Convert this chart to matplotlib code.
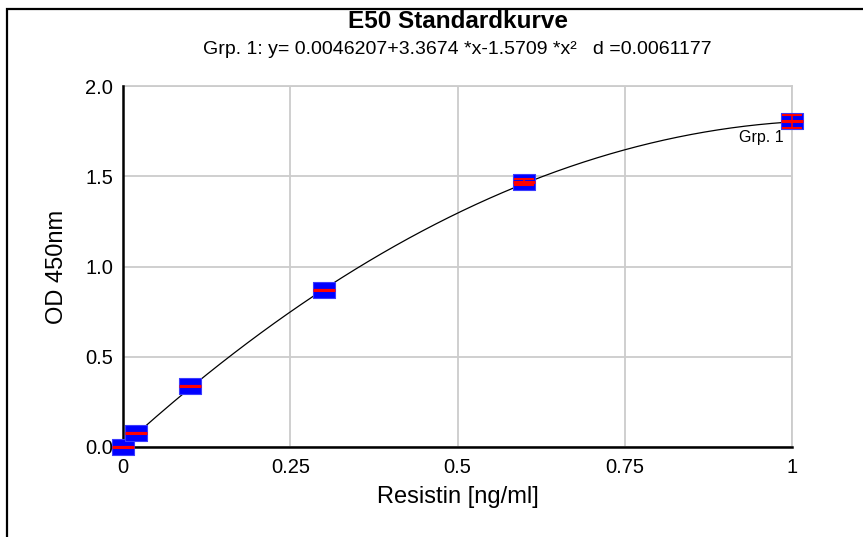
import numpy as np
import matplotlib
matplotlib.use('Agg')
import matplotlib.pyplot as plt
from matplotlib.path import Path
from matplotlib.patches import Rectangle

# standard concentrations and measured OD values
conc = [0.0, 0.02, 0.1, 0.3, 0.6, 1.0]
od = [0.0, 0.075, 0.338, 0.870, 1.470, 1.805]
od_err = [0.0, 0.0, 0.0, 0.0, 0.017, 0.036]

# fit coefficients as given in the subtitle (a + b*x + c*x^2)
fit_coef = [0.0046207, 3.3674, -1.5709]

x_ticks = [0, 0.25, 0.5, 0.75, 1]
x_ticklabels = ['0', '0.25', '0.5', '0.75', '1']
y_ticks = [0.0, 0.5, 1.0, 1.5, 2.0]
y_ticklabels = ['0.0', '0.5', '1.0', '1.5', '2.0']

plt.rcParams['font.family'] = ['Liberation Sans', 'DejaVu Sans']

W, H = 863, 537
fig = plt.figure(figsize=(W / 100, H / 100), dpi=100)
ax = fig.add_axes([123 / W, 1 - 447 / H, (792 - 123) / W, (447 - 86) / H])

# outer frame of the export window
fig.patches.append(Rectangle((7 / W, -0.1), 1.2, 1 - 9 / H + 0.1,
                             transform=fig.transFigure, fill=False,
                             edgecolor='black', linewidth=1.6))

# fitted curve
xs = np.linspace(0, 1, 200)
ys = fit_coef[0] + fit_coef[1] * xs + fit_coef[2] * xs ** 2
ax.plot(xs, ys, color='black', linewidth=0.9, zorder=3)

# blue box markers with red mean line and red error bars
box = Path([(-1, -0.72), (1, -0.72), (1, 0.72), (-1, 0.72), (-1, -0.72)],
           [Path.MOVETO, Path.LINETO, Path.LINETO, Path.LINETO, Path.CLOSEPOLY])
ax.plot(conc, od, linestyle='none', marker=box, markersize=16,
        markerfacecolor='#0000ff', markeredgecolor='#3c3cff',
        markeredgewidth=0.8, zorder=4, clip_on=False)
ax.errorbar(conc, od, yerr=od_err, fmt='none', ecolor='red', elinewidth=1.2,
            capsize=7.5, capthick=1.5, zorder=5, clip_on=False)
ax.plot(conc, od, linestyle='none', marker='_', markersize=15.5,
        markeredgecolor='red', markeredgewidth=2.2, zorder=5, clip_on=False)

ax.annotate('Grp. 1', xy=(conc[-1], od[-1]), xytext=(-6, -6),
            textcoords='offset points', ha='right', va='top', fontsize=11.5)

ax.set_xlim(0, 1)
ax.set_ylim(0, 2)
ax.set_xticks(x_ticks)
ax.set_xticklabels(x_ticklabels)
ax.set_yticks(y_ticks)
ax.set_yticklabels(y_ticklabels)
ax.tick_params(length=0, labelsize=14.5)
ax.tick_params(axis='y', pad=7)
ax.tick_params(axis='x', pad=8)
ax.grid(True, color='#cccccc', linewidth=1.3)
ax.set_axisbelow(True)

for side in ['top', 'right']:
    ax.spines[side].set_color('#cccccc')
    ax.spines[side].set_linewidth(1.3)
for side in ['left', 'bottom']:
    ax.spines[side].set_color('black')
    ax.spines[side].set_linewidth(1.8)
    ax.spines[side].set_zorder(3.5)

ax.set_xlabel('Resistin [ng/ml]', fontsize=17, va='center')
ax.set_ylabel('OD 450nm', fontsize=17, va='center')
ax.xaxis.set_label_coords(0.5, -0.138)
ax.yaxis.set_label_coords(-0.099, 0.5)

cx = (123 + 792) / 2 / W
fig.text(cx, 1 - 21 / H, 'E50 Standardkurve', ha='center', va='center',
         fontsize=17.5, fontweight='bold')
fig.text(cx, 1 - 50 / H,
         'Grp. 1: y= 0.0046207+3.3674 *x-1.5709 *x²   d =0.0061177',
         ha='center', va='center', fontsize=14)

fig.savefig('out.png', dpi=100)
